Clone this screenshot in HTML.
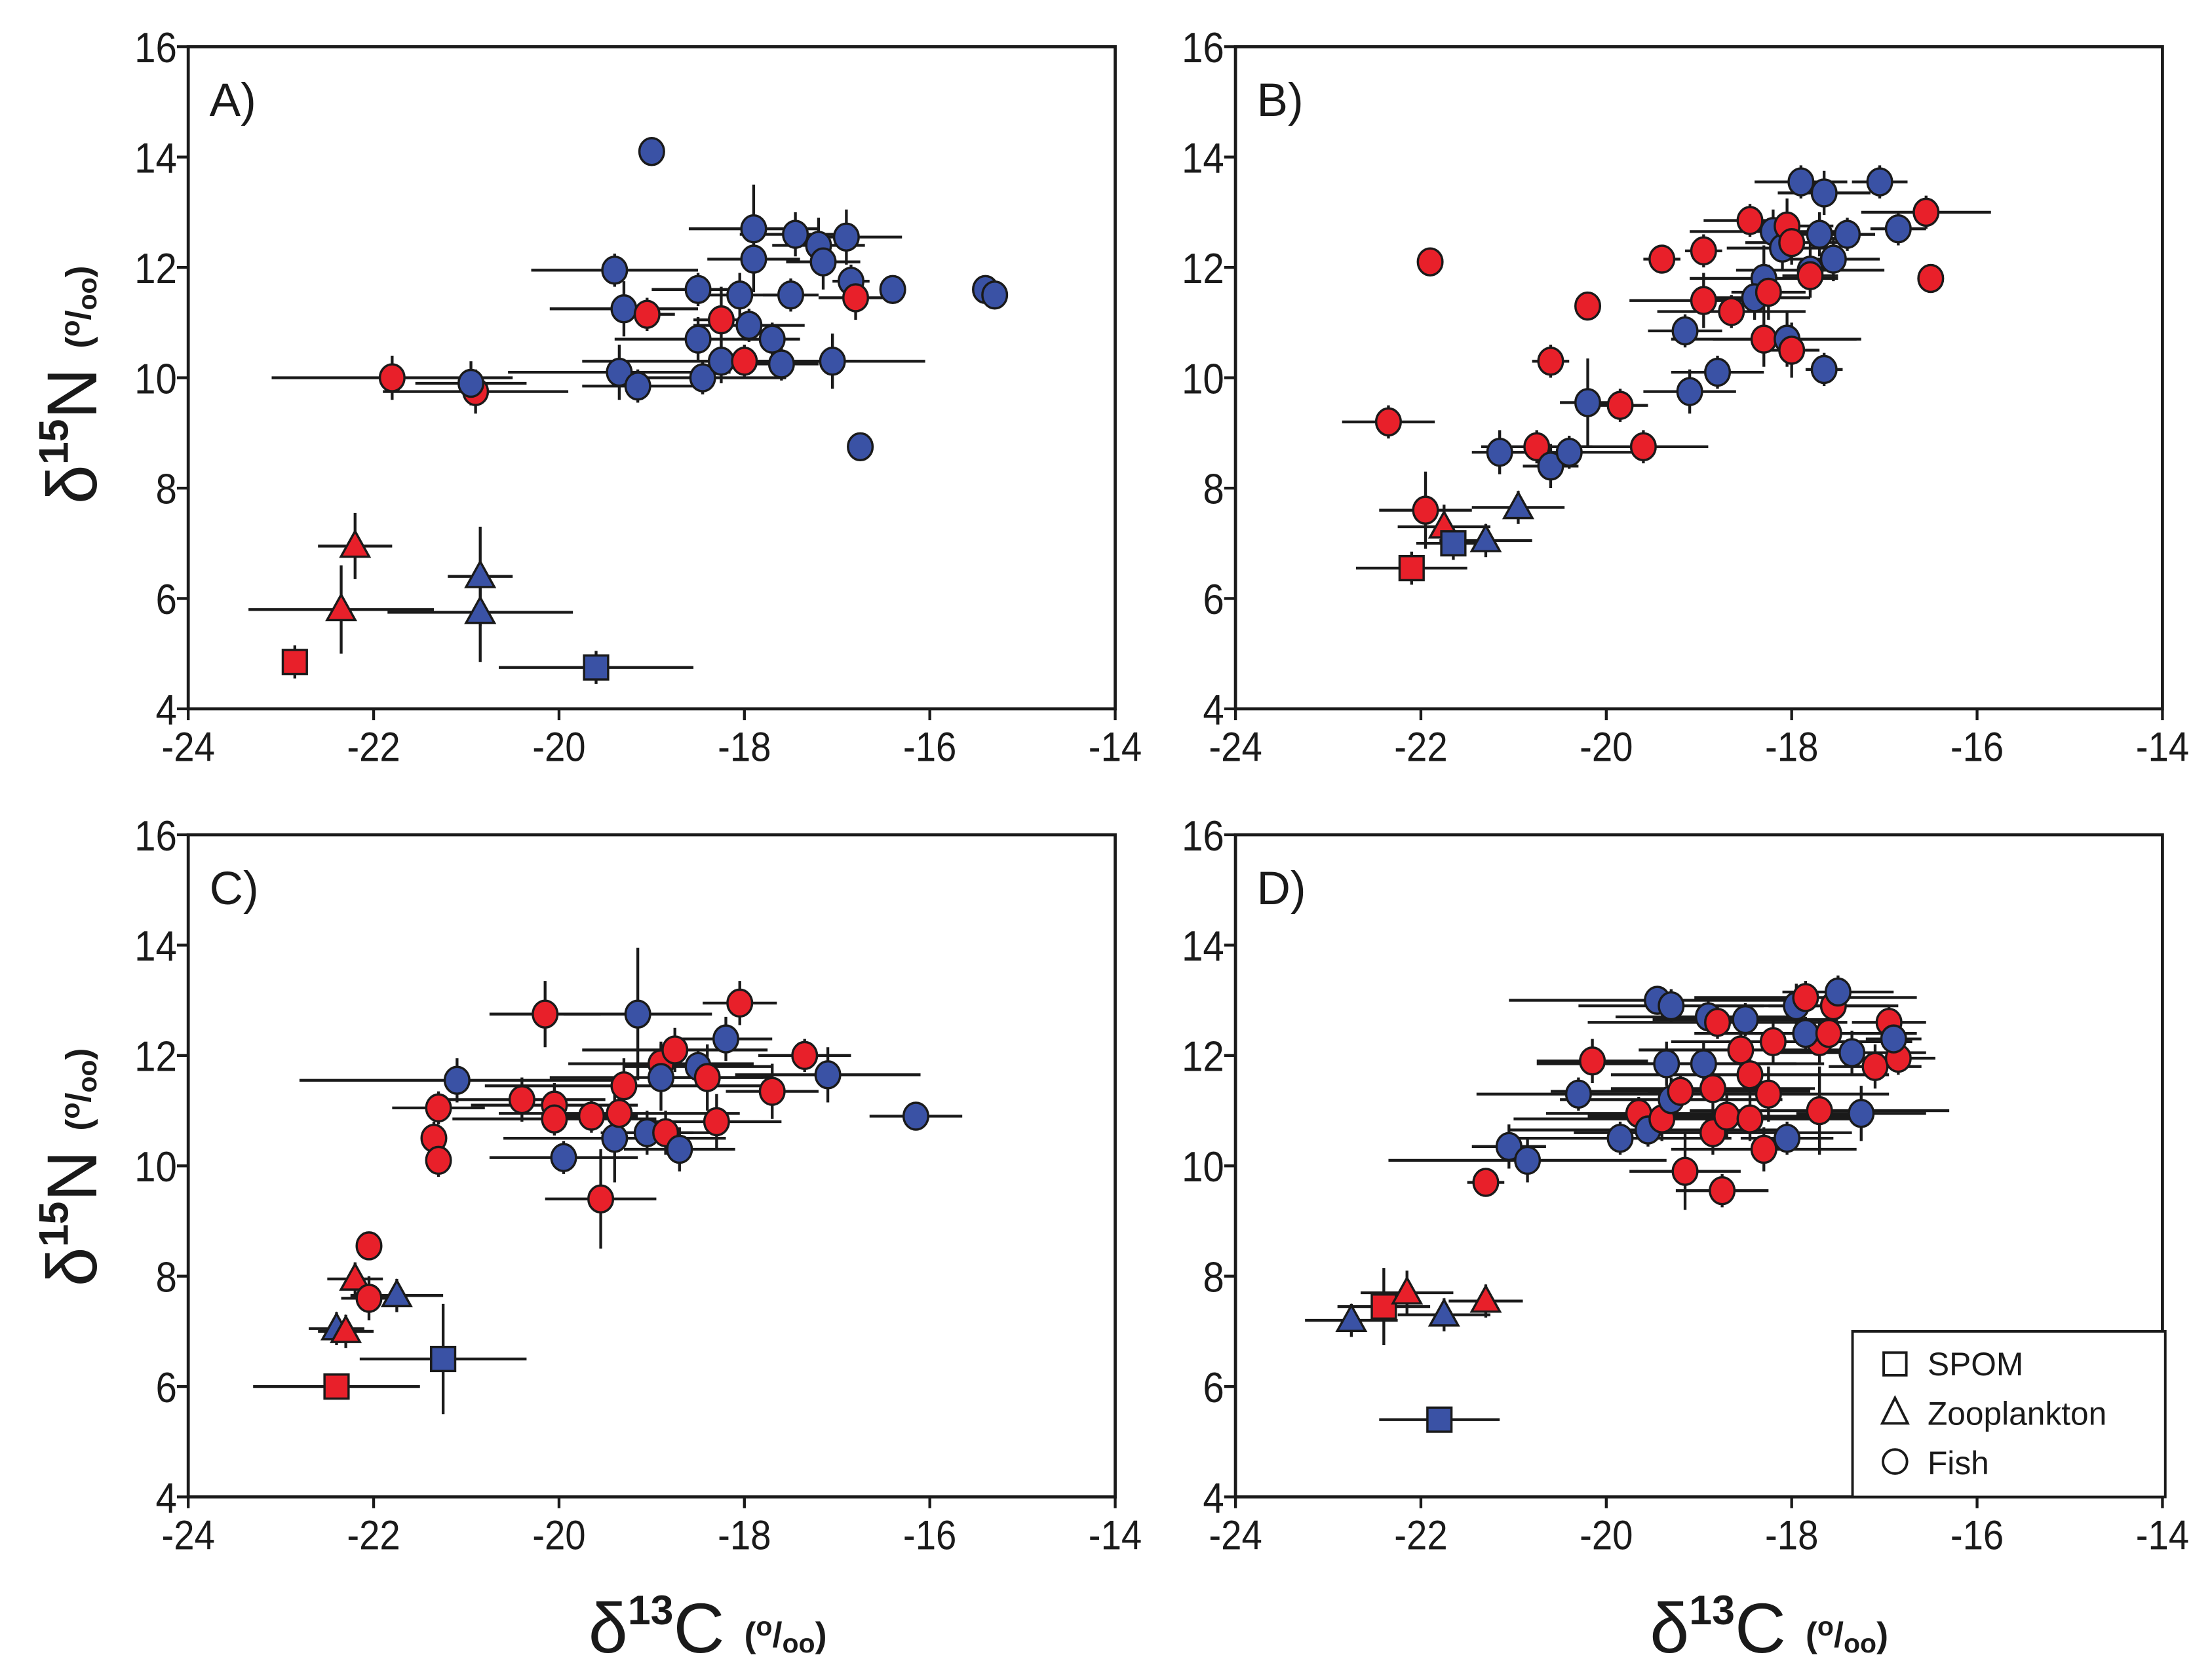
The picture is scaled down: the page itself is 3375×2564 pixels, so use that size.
<!DOCTYPE html>
<html><head><meta charset="utf-8"><style>
html,body{margin:0;padding:0;background:#fff}
svg{display:block}
text{font-family:"Liberation Sans",Arial,sans-serif;fill:#1a1a1a}
</style></head><body>
<svg id="fig" width="3375" height="2564" viewBox="0 0 1563 1187.4" xmlns="http://www.w3.org/2000/svg"></svg>
<script>
// ---- data (x = d13C, y = d15N, shape: s=SPOM t=Zooplankton c=Fish, color: r=red b=blue) ----
const xTicks = [-24,-22,-20,-18,-16,-14];
const yTicks = [4,6,8,10,12,14,16];

const aX = [-22.85,-19.6,-22.2,-22.35,-20.85,-20.85,-21.8,-20.9,-20.95,-19.0,-19.4,-19.3,-19.05,-19.35,-19.15,-18.5,-18.5,-18.45,-18.25,-18.25,-18.0,-17.95,-18.05,-17.9,-17.9,-17.7,-17.6,-17.5,-17.45,-17.2,-17.15,-17.05,-16.9,-16.85,-16.8,-16.75,-16.4,-15.4,-15.3];
const aY = [4.85,4.75,6.95,5.8,6.4,5.75,10.0,9.75,9.9,14.1,11.95,11.25,11.15,10.1,9.85,11.6,10.7,10.0,11.05,10.3,10.3,10.95,11.5,12.15,12.7,10.7,10.25,11.5,12.6,12.4,12.1,10.3,12.55,11.75,11.45,8.75,11.6,11.6,11.5];
const aShape = ['s','s','t','t','t','t','c','c','c','c','c','c','c','c','c','c','c','c','c','c','c','c','c','c','c','c','c','c','c','c','c','c','c','c','c','c','c','c','c'];
const aColor = ['r','b','r','r','b','b','r','r','b','b','b','b','r','b','b','b','b','b','r','b','r','b','b','b','b','b','b','b','b','b','b','b','b','b','r','b','b','b','b'];
const aXerr = [0.1,1.05,0.4,1.0,0.35,1.0,1.3,1.0,0.6,0.05,0.9,0.8,0.3,1.2,0.6,0.5,0.9,0.9,0.3,1.5,1.2,0.6,0.5,0.5,0.7,0.3,0.4,0.3,0.6,0.5,0.4,1.0,0.6,0.2,0.4,0.05,0.1,0.05,0.05];
const aYerr = [0.3,0.3,0.6,0.8,0.9,0.9,0.4,0.4,0.4,0.05,0.3,0.5,0.3,0.5,0.3,0.3,0.4,0.3,0.6,0.4,0.3,0.3,0.4,0.6,0.8,0.3,0.3,0.3,0.4,0.5,0.5,0.5,0.5,0.3,0.4,0.05,0.1,0.05,0.05];

const bX = [-22.1,-21.75,-21.65,-21.3,-20.95,-22.35,-21.95,-21.9,-21.15,-20.75,-20.6,-20.6,-20.4,-20.2,-20.2,-19.85,-19.6,-19.4,-19.1,-18.95,-19.15,-18.95,-18.8,-18.65,-18.45,-18.3,-18.4,-18.25,-18.3,-18.2,-18.1,-18.05,-18.0,-18.05,-18.0,-17.9,-17.8,-17.8,-17.7,-17.65,-17.55,-17.4,-17.65,-17.05,-16.85,-16.55,-16.5];
const bY = [6.55,7.3,7.0,7.05,7.65,9.2,7.6,12.1,8.65,8.75,8.4,10.3,8.65,9.55,11.3,9.5,8.75,12.15,9.75,11.4,10.85,12.3,10.1,11.2,12.85,11.8,11.45,11.55,10.7,12.65,12.35,12.75,12.45,10.7,10.5,13.55,11.95,11.85,12.6,13.35,12.15,12.6,10.15,13.55,12.7,13.0,11.8];
const bShape = ['s','t','s','t','t','c','c','c','c','c','c','c','c','c','c','c','c','c','c','c','c','c','c','c','c','c','c','c','c','c','c','c','c','c','c','c','c','c','c','c','c','c','c','c','c','c','c'];
const bColor = ['r','r','b','b','b','r','r','r','b','r','b','r','b','b','r','r','r','r','b','r','b','r','b','r','r','b','b','r','r','b','b','r','r','b','r','b','b','r','b','b','b','b','b','b','b','r','r'];
const bXerr = [0.6,0.5,0.4,0.5,0.5,0.5,0.5,0.05,0.3,0.6,0.3,0.2,0.7,0.3,0.1,0.3,0.7,0.2,0.5,0.8,0.4,0.2,0.5,0.8,0.5,0.8,0.6,0.4,1.0,0.9,0.6,0.5,0.5,0.8,0.3,0.5,0.8,0.3,0.6,0.5,0.5,0.3,0.2,0.3,0.3,0.7,0.1];
const bYerr = [0.3,0.4,0.3,0.3,0.3,0.3,0.7,0.05,0.4,0.3,0.4,0.3,0.3,0.8,0.2,0.3,0.3,0.2,0.4,0.5,0.3,0.3,0.3,0.3,0.3,0.6,0.4,0.5,0.5,0.4,0.4,0.5,0.4,0.5,0.5,0.3,0.5,0.3,0.4,0.4,0.4,0.3,0.3,0.3,0.3,0.3,0.1];

const cX = [-22.4,-21.25,-22.2,-22.4,-22.3,-21.75,-22.05,-22.05,-21.1,-21.3,-21.35,-21.3,-20.15,-20.4,-20.05,-20.05,-19.95,-19.65,-19.4,-19.35,-19.3,-19.55,-19.15,-19.05,-18.9,-18.9,-18.85,-18.75,-18.7,-18.5,-18.4,-18.3,-18.2,-18.05,-17.7,-17.35,-17.1,-16.15];
const cY = [6.0,6.5,7.95,7.05,7.0,7.65,8.55,7.6,11.55,11.05,10.5,10.1,12.75,11.2,11.1,10.85,10.15,10.9,10.5,10.95,11.45,9.4,12.75,10.6,11.85,11.6,10.6,12.1,10.3,11.8,11.6,10.8,12.3,12.95,11.35,12.0,11.65,10.9];
const cShape = ['s','s','t','t','t','t','c','c','c','c','c','c','c','c','c','c','c','c','c','c','c','c','c','c','c','c','c','c','c','c','c','c','c','c','c','c','c','c'];
const cColor = ['r','b','r','b','r','b','r','r','b','r','r','r','r','r','r','r','b','r','b','r','r','r','b','b','r','b','r','r','b','b','r','r','b','r','r','r','b','b'];
const cXerr = [0.9,0.9,0.3,0.3,0.3,0.5,0.1,0.3,1.7,0.5,0.1,0.1,0.6,0.9,0.9,1.1,0.8,0.5,1.2,1.3,1.5,0.6,0.8,0.5,1.0,1.2,0.5,1.0,0.6,0.8,0.6,0.7,0.5,0.4,0.5,0.5,1.0,0.5];
const cYerr = [0.2,1.0,0.3,0.3,0.3,0.3,0.2,0.4,0.4,0.3,0.3,0.3,0.6,0.4,0.4,0.3,0.3,0.3,0.8,0.5,0.5,0.9,1.2,0.4,0.4,0.6,0.4,0.4,0.4,0.3,0.6,0.5,0.4,0.4,0.5,0.3,0.5,0.2];

const dX = [-22.4,-21.8,-22.15,-21.3,-22.75,-21.75,-21.3,-21.05,-20.85,-20.3,-20.15,-19.85,-19.45,-19.3,-19.65,-19.55,-19.35,-19.4,-19.3,-19.2,-19.15,-18.9,-18.8,-18.95,-18.85,-18.85,-18.75,-18.7,-18.5,-18.55,-18.45,-18.45,-18.3,-18.25,-18.2,-18.05,-17.95,-17.85,-17.7,-17.85,-17.7,-17.6,-17.55,-17.5,-17.35,-17.25,-17.1,-16.95,-16.85,-16.9];
const dY = [7.45,5.4,7.7,7.55,7.2,7.3,9.7,10.35,10.1,11.3,11.9,10.5,13.0,12.9,10.95,10.65,11.85,10.85,11.2,11.35,9.9,12.7,12.6,11.85,11.4,10.6,9.55,10.9,12.65,12.1,11.65,10.85,10.3,11.3,12.25,10.5,12.9,13.05,12.25,12.4,11.0,12.4,12.9,13.15,12.05,10.95,11.8,12.6,11.95,12.3];
const dShape = ['s','s','t','t','t','t','c','c','c','c','c','c','c','c','c','c','c','c','c','c','c','c','c','c','c','c','c','c','c','c','c','c','c','c','c','c','c','c','c','c','c','c','c','c','c','c','c','c','c','c'];
const dColor = ['r','b','r','r','b','b','r','b','b','b','r','b','b','b','r','b','b','r','b','r','r','b','r','b','r','r','r','r','b','r','r','r','r','r','r','b','b','r','r','b','r','r','r','b','b','b','r','r','r','b'];
const dXerr = [0.5,0.65,0.5,0.4,0.5,0.5,0.2,0.4,1.5,1.1,0.6,1.2,1.6,1.0,1.0,1.5,1.4,1.6,1.2,1.4,0.6,1.0,1.4,1.3,1.1,1.5,0.5,1.5,1.0,1.1,1.5,1.2,1.0,1.3,1.1,0.5,1.0,1.2,1.0,1.2,1.4,0.8,0.7,0.6,0.8,0.7,0.5,0.4,0.4,0.3];
const dYerr = [0.7,0.2,0.4,0.3,0.3,0.3,0.2,0.4,0.4,0.3,0.4,0.3,0.2,0.3,0.3,0.3,0.4,0.4,0.4,0.3,0.7,0.3,0.3,0.4,0.4,0.4,0.3,0.4,0.3,0.5,0.4,0.4,0.4,0.5,0.4,0.3,0.4,0.3,0.4,0.3,0.8,0.3,0.4,0.3,0.4,0.5,0.4,0.3,0.3,0.4];

const svg = document.getElementById('fig');
const NS = 'http://www.w3.org/2000/svg';
const RED = '#e8202a', BLUE = '#3a52a5';
function mk(tag, attrs, parent){const e=document.createElementNS(NS,tag);for(const k in attrs)e.setAttribute(k,attrs[k]);(parent||svg).appendChild(e);return e;}

function panel(name, letter, L, T, xs, ys, shp, col, xe, ye){
  const W=655, H=468, R=L+W, B=T+H;
  const sx = v => L + (v-(-24))/10*W;
  const sy = v => B - (v-4)/12*H;
  const g = mk('g',{});
  
  
  const frame = mk('rect',{x:L,y:T,width:W,height:H,fill:'none',stroke:'#1a1a1a','stroke-width':2.2},g);
  
  
  xTicks.forEach(t=>{
    mk('line',{x1:sx(t),x2:sx(t),y1:B,y2:B+8,stroke:'#1a1a1a','stroke-width':2},g);
    const tx=mk('text',{x:sx(t),y:B+37,'font-size':29,'text-anchor':'middle',transform:`translate(${sx(t)*0.1},0) scale(0.9,1)`},g);
    tx.textContent=t;
    
    
  });
  yTicks.forEach(t=>{
    mk('line',{x1:L-8,x2:L,y1:sy(t),y2:sy(t),stroke:'#1a1a1a','stroke-width':2},g);
    const tx=mk('text',{x:L-8,y:sy(t)+11,'font-size':30,'text-anchor':'end',transform:`translate(${(L-8)*0.1},0) scale(0.9,1)`},g);
    tx.textContent=t;
    
    
  });
  const lt=mk('text',{x:L+15,y:T+49,'font-size':33},g);
  lt.textContent=letter+')';
  
  
  for(let i=0;i<xs.length;i++){
    const cx=sx(xs[i]), cy=sy(ys[i]);
    mk('line',{x1:sx(xs[i]-xe[i]),x2:sx(xs[i]+xe[i]),y1:cy,y2:cy,stroke:'#1a1a1a','stroke-width':2},g);
    mk('line',{x1:cx,x2:cx,y1:sy(ys[i]-ye[i]),y2:sy(ys[i]+ye[i]),stroke:'#1a1a1a','stroke-width':2},g);
  }
  for(let i=0;i<xs.length;i++){
    const cx=sx(xs[i]), cy=sy(ys[i]);
    const fill = col[i]==='r'?RED:BLUE;
    let m;
    if(shp[i]==='s') m=mk('rect',{x:cx-8.5,y:cy-8.5,width:17,height:17,fill,stroke:'#1a1a1a','stroke-width':1.6},g);
    else if(shp[i]==='t') m=mk('polygon',{points:`${cx},${cy-10.5} ${cx+10},${cy+7.5} ${cx-10},${cy+7.5}`,fill,stroke:'#1a1a1a','stroke-width':1.6},g);
    else m=mk('ellipse',{cx,cy,rx:8.7,ry:9.5,fill,stroke:'#1a1a1a','stroke-width':1.6},g);
    
    
  }
}
panel('a','A',133,33,aX,aY,aShape,aColor,aXerr,aYerr);
panel('b','B',873,33,bX,bY,bShape,bColor,bXerr,bYerr);
panel('c','C',133,590,cX,cY,cShape,cColor,cXerr,cYerr);
panel('d','D',873,590,dX,dY,dShape,dColor,dXerr,dYerr);

function yLabel(cy){
  const t=mk('text',{transform:`translate(68,${cy}) rotate(-90)`,'font-size':50,'text-anchor':'middle'});
  t.innerHTML='<tspan>δ</tspan><tspan font-size="29" font-weight="bold" dy="-20">15</tspan><tspan dy="20">N </tspan><tspan font-size="25" font-weight="bold" dy="-4">(</tspan><tspan font-size="19" font-weight="bold" dy="-8">o</tspan><tspan font-size="25" font-weight="bold" dy="8">/</tspan><tspan font-size="19" font-weight="bold" dy="4">oo</tspan><tspan font-size="25" font-weight="bold" dy="-4">)</tspan>';
  
  
}
function xLabel(cx,y){
  const t=mk('text',{x:cx,y:y,'font-size':50,'text-anchor':'middle'});
  t.innerHTML='<tspan>δ</tspan><tspan font-size="29" font-weight="bold" dy="-20">13</tspan><tspan dy="20">C </tspan><tspan font-size="25" font-weight="bold" dy="-4">(</tspan><tspan font-size="19" font-weight="bold" dy="-8">o</tspan><tspan font-size="25" font-weight="bold" dy="8">/</tspan><tspan font-size="19" font-weight="bold" dy="4">oo</tspan><tspan font-size="25" font-weight="bold" dy="-4">)</tspan>';
  
  
}
yLabel(272); yLabel(825);
xLabel(500,1168); xLabel(1250,1168);

const lg=mk('g',{});


mk('rect',{x:1309,y:941,width:221,height:117,fill:'#fff',stroke:'#1a1a1a','stroke-width':1.8},lg);
mk('rect',{x:1331,y:956,width:16,height:16,fill:'#fff',stroke:'#1a1a1a','stroke-width':1.8},lg);
mk('polygon',{points:'1339,988 1348,1006 1330,1006',fill:'#fff',stroke:'#1a1a1a','stroke-width':1.8},lg);
mk('circle',{cx:1339,cy:1033,r:8.5,fill:'#fff',stroke:'#1a1a1a','stroke-width':1.8},lg);
[['SPOM',972,'legend-entry-spom'],['Zooplankton',1007,'legend-entry-zooplankton'],['Fish',1042,'legend-entry-fish']].forEach(e=>{
  const t=mk('text',{x:1362,y:e[1],'font-size':23},lg);
  t.textContent=e[0];
  
  
});
</script>
</body></html>
